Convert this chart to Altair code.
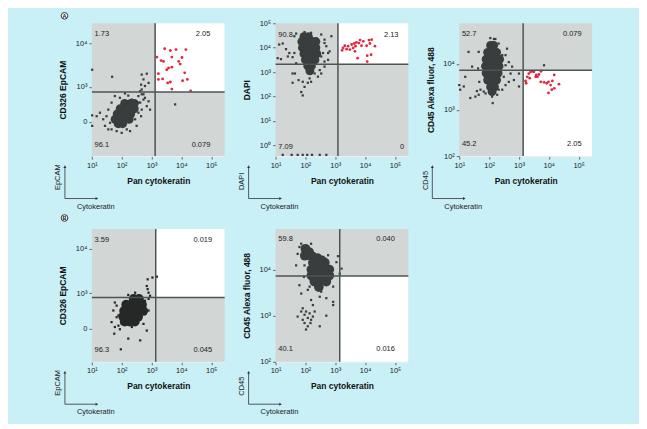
import altair as alt
import pandas as pd

FONT = "Liberation Sans"
BG = "#c9eff7"
QGRAY = "#d2d6d5"
DOT = "#3a3d3d"
DOT_B1 = "#262828"
RED = "#e0283e"
GATE = "#4e5353"

X_DOMAIN = [1, 5.45]
X_TICKS = [1, 2, 3, 4, 5]
SUP = "['⁰','¹','²','³','⁴','⁵']"

# ---------------- Panel A1: EpCAM vs cytokeratin ----------------
A1_core = [(2.1, 2.62), (2.3, 2.62), (2.42, 2.62), (1.95, 2.5), (2.1, 2.5), (2.25, 2.5),
           (2.42, 2.5), (1.85, 2.38), (2.0, 2.38), (2.15, 2.38), (2.3, 2.38), (1.78, 2.26),
           (1.93, 2.26), (2.08, 2.26), (2.25, 2.26), (1.88, 2.16), (2.03, 2.16)]
A1_dots = [(1.01, 3.39), (1.68, 3.23), (2.67, 3.28), (2.84, 3.30), (2.73, 3.17), (2.65, 3.05),
           (2.67, 2.94), (2.78, 3.02), (2.90, 3.09), (2.56, 2.79), (2.78, 2.75), (2.90, 2.67),
           (2.84, 2.56), (2.67, 2.48), (2.95, 2.48), (1.01, 2.35), (1.16, 2.33), (1.27, 2.41),
           (1.38, 2.26), (1.44, 2.11), (1.55, 2.03), (1.66, 2.03), (1.01, 2.11), (3.79, 2.60),
           (2.0, 1.95), (2.17, 2.03), (1.89, 2.09), (2.45, 2.26), (2.56, 2.41), (1.49, 2.33),
           (2.34, 2.71), (1.94, 2.75), (2.62, 2.64), (2.73, 2.83), (2.62, 2.90), (2.73, 2.71),
           (2.67, 2.83), (1.77, 2.79), (1.66, 2.64), (1.55, 2.48), (1.61, 2.18), (1.83, 1.99),
           (2.28, 1.99), (2.50, 2.11), (2.65, 2.33), (2.56, 2.64), (2.11, 2.85), (2.22, 2.80)]
A1_red = [(3.44, 3.87), (3.63, 3.83), (3.82, 3.85), (4.15, 3.85), (3.18, 3.68), (3.32, 3.60),
          (3.40, 3.58), (3.68, 3.68), (4.02, 3.67), (3.96, 3.52), (3.57, 3.43), (3.68, 3.45),
          (3.51, 3.39), (3.23, 3.30), (3.37, 3.18), (3.54, 3.09), (3.63, 3.11), (4.11, 3.32),
          (4.04, 3.14), (4.20, 3.17), (3.68, 2.95), (4.31, 2.91), (3.91, 3.58), (3.23, 3.17)]
A1_left = [("1.73", 1.09, 4.2), ("96.1", 1.09, 1.67)]
A1_right = [("2.05", 4.97, 4.2), ("0.079", 4.97, 1.67)]
A1_gate = (3.12, 2.88)
A1_ydomain = [1.42, 4.45]
A1_yticks = [2.2, 3, 4]

# ---------------- Panel A2: DAPI vs cytokeratin ----------------
A2_core = [(1.95, 4.45), (2.1, 4.45), (1.88, 4.25), (2.05, 4.25), (2.22, 4.25), (2.35, 4.25),
           (1.9, 4.0), (2.05, 4.0), (2.2, 4.0), (2.35, 4.0), (1.95, 3.75), (2.1, 3.75),
           (2.25, 3.75), (2.38, 3.75), (2.0, 3.5), (2.15, 3.5), (2.32, 3.5), (2.08, 3.25),
           (2.2, 3.25), (2.15, 3.05)]
A2_dots = [(1.12, 4.13), (1.24, 4.17), (1.35, 3.94), (1.46, 3.78), (1.41, 3.64), (1.57, 3.61),
           (1.07, 3.57), (1.18, 3.53), (1.57, 2.94), (1.65, 2.94), (1.57, 2.56), (1.77, 2.67),
           (1.91, 2.60), (2.08, 2.56), (2.19, 2.60), (1.97, 2.39), (1.86, 2.18), (1.91, 2.04),
           (2.31, 2.94), (2.53, 2.94), (2.64, 3.22), (2.76, 3.50), (2.81, 3.85), (2.87, 4.47),
           (2.64, 4.19), (2.53, 3.64), (2.42, 2.81), (2.14, 2.74), (2.70, 4.06), (2.76, 3.78),
           (1.63, 4.47), (1.69, 4.58), (2.53, 4.54), (2.64, 4.33), (2.59, 3.78), (2.64, 3.43),
           (1.63, 3.78), (1.69, 3.36), (2.19, 4.61), (1.97, 4.64), (2.48, 3.08),
           (1.24, -0.4), (1.54, -0.4), (1.74, -0.4), (1.91, -0.4), (2.06, -0.4), (2.22, -0.4),
           (2.48, -0.4), (2.70, -0.4)]
A2_red = [(3.23, 3.89), (3.32, 4.08), (3.43, 4.06), (3.55, 4.13), (3.64, 4.17), (3.71, 4.22),
          (3.83, 4.31), (3.94, 4.26), (4.13, 4.31), (4.22, 4.33), (3.38, 3.94), (3.49, 3.92),
          (3.60, 3.99), (3.68, 4.06), (3.88, 4.08), (4.05, 4.08), (4.16, 4.17), (4.33, 4.06),
          (3.75, 3.57), (4.07, 3.67), (4.20, 3.71), (4.07, 3.43), (3.26, 3.99), (3.66, 3.85),
          (3.79, 4.19)]
A2_left = [("90.8", 1.09, 4.54), ("7.09", 1.09, -0.08)]
A2_right = [("2.13", 5.12, 4.54), ("0", 5.31, -0.08)]
A2_gate = (3.09, 3.32)
A2_ydomain = [-0.45, 5]
A2_yticks = [0, 1, 2, 3, 4, 5]

# ---------------- Panel A3: CD45 vs cytokeratin ----------------
A3_core = [(2.05, 4.4), (2.15, 4.4), (1.95, 4.25), (2.1, 4.25), (2.25, 4.25), (1.9, 4.1),
           (2.05, 4.1), (2.2, 4.1), (2.35, 4.1), (1.88, 3.95), (2.03, 3.95), (2.18, 3.95),
           (2.33, 3.95), (1.9, 3.8), (2.05, 3.8), (2.2, 3.8), (2.3, 3.8), (1.95, 3.65),
           (2.1, 3.65), (2.25, 3.65), (2.05, 3.5), (2.18, 3.5), (2.1, 3.4)]
A3_dots = [(1.0, 3.54), (1.03, 3.44), (1.15, 3.51), (1.20, 3.72), (1.31, 4.26), (1.43, 3.94),
           (1.37, 3.26), (1.54, 3.29), (1.65, 3.33), (1.71, 3.44), (1.59, 3.41), (1.88, 3.36),
           (2.10, 3.29), (2.12, 3.15), (2.27, 3.33), (2.44, 3.44), (2.55, 3.54), (2.66, 3.61),
           (2.83, 3.65), (2.72, 3.79), (2.55, 3.97), (2.60, 4.33), (2.32, 4.44), (3.0, 3.51),
           (3.0, 3.79), (3.84, 3.97), (2.21, 4.54), (2.77, 3.94), (2.44, 4.19),
           (1.65, 4.26), (1.63, 3.90), (1.67, 3.61), (2.55, 4.19), (2.66, 4.04), (2.49, 3.72),
           (2.32, 3.44), (1.82, 3.40), (2.16, 4.54), (2.04, 4.56)]
A3_red = [(3.22, 3.63), (3.28, 3.72), (3.33, 3.79), (3.39, 3.83), (3.45, 3.84), (3.56, 3.72),
          (3.58, 3.76), (3.67, 3.77), (3.74, 3.84), (3.50, 3.83), (3.36, 3.69), (3.73, 3.61),
          (3.84, 3.60), (3.93, 3.58), (3.99, 3.61), (4.12, 3.63), (4.18, 3.76), (4.06, 3.54),
          (4.18, 3.47), (4.10, 3.44), (3.99, 3.37), (4.34, 3.56), (3.62, 3.72), (3.24, 3.58)]
A3_left = [("52.7", 1.09, 4.65), ("45.2", 1.09, 2.27)]
A3_right = [("0.079", 5.1, 4.65), ("2.05", 5.1, 2.27)]
A3_gate = (3.14, 3.86)
A3_ydomain = [2, 4.88]
A3_yticks = [2, 3, 4]

# ---------------- Panel B1: EpCAM vs cytokeratin ----------------
B1_core = [(2.4, 2.87), (2.58, 2.87), (2.15, 2.74), (2.32, 2.74), (2.5, 2.74), (2.68, 2.74),
           (2.08, 2.6), (2.25, 2.6), (2.42, 2.6), (2.6, 2.6), (2.72, 2.6), (2.05, 2.47),
           (2.2, 2.47), (2.37, 2.47), (2.55, 2.47), (2.1, 2.36), (2.27, 2.36), (2.44, 2.36)]
B1_dots = [(1.77, 2.79), (1.72, 2.61), (1.66, 2.35), (1.77, 2.24), (1.75, 2.09), (1.94, 2.19),
           (2.22, 1.98), (2.62, 1.94), (1.97, 1.74), (2.84, 2.16), (2.78, 2.53), (2.90, 2.87),
           (2.90, 3.01), (2.84, 3.16), (2.87, 3.31), (3.03, 3.35), (3.18, 3.37), (2.95, 2.94),
           (2.87, 3.09), (1.89, 2.27), (1.83, 2.46), (1.83, 2.72), (1.89, 2.50), (2.00, 2.31),
           (2.34, 2.24), (2.73, 2.31), (2.90, 2.61), (2.78, 2.83), (2.45, 3.01), (2.22, 2.96)]
B1_red = []
B1_left = [("3.59", 1.09, 4.2), ("96.3", 1.09, 1.72)]
B1_right = [("0.019", 5.03, 4.2), ("0.045", 5.03, 1.72)]
B1_gate = (3.14, 2.9)
B1_ydomain = [1.46, 4.44]
B1_yticks = [2.2, 3, 4]

# ---------------- Panel B2: CD45 vs cytokeratin ----------------
B2_core = [(2.0, 4.45), (2.12, 4.38), (1.98, 4.3), (2.2, 4.3), (2.4, 4.25), (2.55, 4.2),
           (2.25, 4.15), (2.45, 4.15), (2.65, 4.15), (2.2, 4.0), (2.4, 4.0), (2.6, 4.0),
           (2.8, 4.0), (2.2, 3.87), (2.4, 3.87), (2.6, 3.87), (2.8, 3.87), (2.3, 3.74),
           (2.5, 3.74), (2.7, 3.74), (2.45, 3.62)]
B2_dots = [(1.69, 4.09), (1.80, 3.66), (1.86, 3.48), (2.19, 3.34), (2.25, 3.23), (2.70, 3.38),
           (2.93, 3.30), (2.93, 3.23), (2.70, 3.0), (3.09, 4.29), (3.21, 4.02), (2.48, 3.41),
           (2.08, 3.56), (1.91, 3.16), (1.74, 2.98), (1.97, 2.84), (2.02, 2.70), (2.48, 2.77),
           (2.19, 2.91), (2.31, 3.09), (2.14, 3.05), (1.97, 3.02), (1.91, 2.91), (2.25, 2.98),
           (2.08, 2.95), (1.80, 4.49), (2.19, 4.56), (1.91, 4.38), (2.31, 4.34), (2.02, 3.09),
           (2.17, 2.84), (1.86, 3.09), (2.08, 2.77), (1.97, 4.09), (1.95, 3.84), (2.14, 3.63),
           (2.53, 3.52), (2.93, 3.63), (3.15, 3.91), (3.04, 4.16), (2.76, 4.31), (2.42, 4.31),
           (1.74, 4.34), (1.86, 4.56)]
B2_red = []
B2_left = [("59.8", 1.09, 4.67), ("40.1", 1.09, 2.27)]
B2_right = [("0.040", 5.0, 4.67), ("0.016", 5.0, 2.27)]
B2_gate = (3.15, 3.86)
B2_ydomain = [2, 4.88]
B2_yticks = [2, 3, 4]

W, H = 133, 133


def panel(core, dots, red, left_lbl, right_lbl, gate, ydom, yticks, ytitle, positive,
          small_title, zero_tick, letter=None, letter_dy=-7.5, core_color=DOT, core_size=80):
    xg, yg = gate
    x0, x1 = X_DOMAIN
    y0, y1 = ydom
    if positive == "upper":
        qy0, qy1 = yg, y1
    else:
        qy0, qy1 = y0, yg
    quad = pd.DataFrame({"x": [x0, xg], "x2": [x1, x1], "y": [y0, qy0], "y2": [y1, qy1],
                         "fill": [QGRAY, "#ffffff"]})
    xs = alt.Scale(domain=X_DOMAIN, nice=False, zero=False)
    ys = alt.Scale(domain=ydom, nice=False, zero=False)
    lab = "'10' + " + SUP + "[round(datum.value)]"
    ylab = ("datum.value < 2.5 ? '0' : " + lab) if zero_tick else lab
    xaxis = alt.Axis(values=X_TICKS, labelExpr=lab, title="Pan cytokeratin",
                     titleFontWeight="bold", titleFontSize=8.5, titleX=W / 2, titleY=24,
                     titleBaseline="middle", titleAlign="center",
                     labelFontSize=7.5, tickSize=3, labelPadding=2, tickColor="#666",
                     domainColor="#eeeeee", domainWidth=1, grid=False, labelFlush=False,
                     labelOverlap=False)
    yaxis = alt.Axis(values=yticks, labelExpr=ylab, title=ytitle, titleFontWeight="bold",
                     titleFontSize=8.5, titleX=-29, titleY=H / 2, titleAngle=270,
                     titleBaseline="middle", titleAlign="center",
                     labelFontSize=7.5, tickSize=3, labelPadding=2, tickColor="#666",
                     domain=False, grid=False, labelFlush=False, labelOverlap=False)
    X = alt.X("x:Q", scale=xs, axis=xaxis)
    Y = alt.Y("y:Q", scale=ys, axis=yaxis)
    layers = []
    layers.append(alt.Chart(quad).mark_rect().encode(
        x=X, x2="x2:Q", y=Y, y2="y2:Q", fill=alt.Fill("fill:N", scale=None)))
    layers.append(alt.Chart(pd.DataFrame(core, columns=["x", "y"])).mark_circle(
        size=core_size, color=core_color, opacity=1).encode(x=X, y=Y))
    layers.append(alt.Chart(pd.DataFrame(dots, columns=["x", "y"])).mark_square(
        size=5, color=core_color, opacity=1).encode(x=X, y=Y))
    if red:
        layers.append(alt.Chart(pd.DataFrame(red, columns=["x", "y"])).mark_circle(
            size=8, color=RED, opacity=1).encode(x=X, y=Y))
    layers.append(alt.Chart(pd.DataFrame({"x": [xg]})).mark_rule(
        color=GATE, strokeWidth=1.5).encode(x=X))
    layers.append(alt.Chart(pd.DataFrame({"y": [yg]})).mark_rule(
        color=GATE, strokeWidth=1.5).encode(y=Y))
    layers.append(alt.Chart(pd.DataFrame(left_lbl, columns=["t", "x", "y"])).mark_text(
        align="left", baseline="middle", fontSize=7.5, color="#222").encode(
        x=X, y=Y, text="t:N"))
    layers.append(alt.Chart(pd.DataFrame(right_lbl, columns=["t", "x", "y"])).mark_text(
        align="right", baseline="middle", fontSize=7.5, color="#222").encode(
        x=X, y=Y, text="t:N"))
    # small orientation key below each plot
    one = pd.DataFrame({"k": [0]})
    ink = "#333333"
    layers.append(alt.Chart(one).mark_rule(color=ink, strokeWidth=0.8).encode(
        x=alt.value(-27), y=alt.value(H + 11), y2=alt.value(H + 42.5)))
    layers.append(alt.Chart(one).mark_rule(color=ink, strokeWidth=0.8).encode(
        x=alt.value(-27), x2=alt.value(4), y=alt.value(H + 42.5)))
    layers.append(alt.Chart(one).mark_point(shape="triangle-up", filled=True, size=9,
                                            color=ink, opacity=1).encode(
        x=alt.value(-27), y=alt.value(H + 10.5)))
    layers.append(alt.Chart(one).mark_point(shape="triangle-right", filled=True, size=9,
                                            color=ink, opacity=1).encode(
        x=alt.value(5), y=alt.value(H + 42.5)))
    layers.append(alt.Chart(one).mark_text(angle=270, align="left", baseline="middle",
                                           fontSize=7.5, color="#222").encode(
        x=alt.value(-33.5), y=alt.value(H + 34), text=alt.value(small_title)))
    layers.append(alt.Chart(one).mark_text(align="left", baseline="middle",
                                           fontSize=7.5, color="#222").encode(
        x=alt.value(-15), y=alt.value(H + 50.5), text=alt.value("Cytokeratin")))
    if letter:
        layers.append(alt.Chart(one).mark_circle(size=44, color="#ffffff", opacity=1,
                                                 stroke="#222", strokeWidth=0.9).encode(
            x=alt.value(-27.4), y=alt.value(letter_dy)))
        layers.append(alt.Chart(one).mark_text(fontSize=5.5, fontWeight="bold",
                                               align="center", baseline="middle",
                                               color="#111").encode(
            x=alt.value(-27.4), y=alt.value(letter_dy + 0.3), text=alt.value(letter)))
    return alt.layer(*layers).properties(width=W, height=H)


A1 = panel(A1_core, A1_dots, A1_red, A1_left, A1_right, A1_gate, A1_ydomain, A1_yticks,
           "CD326 EpCAM", "upper", "EpCAM", True, letter="A", letter_dy=-7.5)
A2 = panel(A2_core, A2_dots, A2_red, A2_left, A2_right, A2_gate, A2_ydomain, A2_yticks,
           "DAPI", "upper", "DAPI", False)
A3 = panel(A3_core, A3_dots, A3_red, A3_left, A3_right, A3_gate, A3_ydomain, A3_yticks,
           "CD45 Alexa fluor, 488", "lower", "CD45", False)
B1 = panel(B1_core, B1_dots, B1_red, B1_left, B1_right, B1_gate, B1_ydomain, B1_yticks,
           "CD326 EpCAM", "upper", "EpCAM", True, letter="B", letter_dy=-11,
           core_color=DOT_B1, core_size=95)
B2 = panel(B2_core, B2_dots, B2_red, B2_left, B2_right, B2_gate, B2_ydomain, B2_yticks,
           "CD45 Alexa fluor, 488", "lower", "CD45", False, core_size=95)

chart = alt.concat(A1, A2, A3, B1, B2, columns=3, spacing={"row": 73, "column": 51},
                   bounds="flush").configure(
    background=BG, padding={"left": 46, "top": 2, "right": 46, "bottom": 8}, font=FONT
).configure_view(stroke=None).configure_axis(labelFont=FONT, titleFont=FONT,
                                             labelColor="#222", titleColor="#111",
                                             labelOverlap=False)

chart.save("out.html", embed_options={"renderer": "svg", "actions": False})
